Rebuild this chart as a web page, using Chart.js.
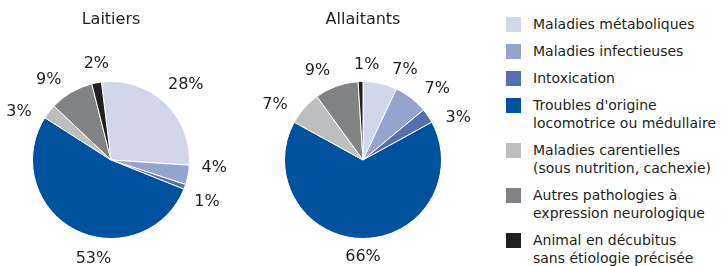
<!DOCTYPE html>
<html>
<head>
<meta charset="utf-8">
<script src="https://cdn.jsdelivr.net/npm/chart.js@4.4.1/dist/chart.umd.min.js"></script>
<style>
  body { margin: 0; background: #fff; width: 726px; height: 266px; overflow: hidden; position: relative; font-family: "DejaVu Sans", sans-serif; color: #231f20; }
  #c1 { position: absolute; left: 0; top: 0; }
  #c2 { position: absolute; left: 252px; top: 0; }
  #legend { position: absolute; left: 506px; top: 15px; }
  .item { display: flex; align-items: flex-start; margin-bottom: 9px; font-size: 14px; line-height: 18px; }
  .box { width: 15px; height: 15px; margin-top: 2px; margin-right: 12px; flex: none; }
</style>
</head>
<body>
<canvas id="c1" width="244" height="266"></canvas>
<canvas id="c2" width="240" height="266"></canvas>
<div id="legend"></div>
<script>
const categories = [
    ['Maladies métaboliques'],
    ['Maladies infectieuses'],
    ['Intoxication'],
    ["Troubles d'origine", 'locomotrice ou médullaire'],
    ['Maladies carentielles', '(sous nutrition, cachexie)'],
    ['Autres pathologies à', 'expression neurologique'],
    ['Animal en décubitus', 'sans étiologie précisée']
];
const laitiers = [28, 4, 1, 53, 3, 9, 2];
const allaitants = [7, 7, 3, 66, 7, 9, 1];
const colors = ['#d2d6eb', '#95a3cf', '#5470b3', '#00519e', '#bcbec0', '#808285', '#231f20'];

// percentage labels outside each slice, nudged a little like in the original
const outsideLabels = {
    id: 'outsideLabels',
    afterDatasetsDraw(chart, args, opts) {
        const ctx = chart.ctx;
        const meta = chart.getDatasetMeta(0);
        const shift = opts.shift || [];
        ctx.save();
        ctx.font = '16px "DejaVu Sans"';
        ctx.fillStyle = '#231f20';
        ctx.textAlign = 'center';
        ctx.textBaseline = 'middle';
        meta.data.forEach((arc, i) => {
            const p = arc.getProps(['x', 'y', 'startAngle', 'endAngle', 'outerRadius'], true);
            const txt = chart.data.datasets[0].data[i] + '%';
            const w = ctx.measureText(txt).width;
            const mid = (p.startAngle + p.endAngle) / 2 + (shift[i] || 0) * Math.PI / 180;
            const c = Math.cos(mid), s = Math.sin(mid);
            const r = p.outerRadius + 12 + Math.abs(c) * w / 2 + Math.abs(s) * 5.5;
            ctx.fillText(txt, p.x + c * r, p.y + s * r + 1);
        });
        ctx.restore();
    }
};

function makePie(id, title, values, rotation, shift, padRight) {
    return new Chart(document.getElementById(id), {
        type: 'pie',
        data: {
            labels: categories.map(c => c.join(' ')),
            datasets: [{
                data: values,
                backgroundColor: colors,
                borderColor: '#ffffff',
                borderWidth: 1
            }]
        },
        options: {
            responsive: false,
            animation: false,
            rotation: rotation,
            layout: { padding: { left: 32, right: padRight, top: 0, bottom: 27 } },
            plugins: {
                legend: { display: false },
                tooltip: { enabled: false },
                title: {
                    display: true,
                    text: title,
                    color: '#231f20',
                    font: { family: 'DejaVu Sans', size: 16, weight: 'normal' },
                    padding: { top: 10, bottom: 51.8 }
                },
                outsideLabels: { shift: shift }
            }
        },
        plugins: [outsideLabels]
    });
}

makePie('c1', 'Laitiers', laitiers, -7, [1, -7, 3, -17, -10, -7, 2], 54);
makePie('c2', 'Allaitants', allaitants, 0, [12, 8, 10, 0, -9, -7, 4], 50);

const legend = document.getElementById('legend');
categories.forEach((lines, i) => {
    const item = document.createElement('div');
    item.className = 'item';
    const box = document.createElement('div');
    box.className = 'box';
    box.style.background = colors[i];
    const txt = document.createElement('div');
    txt.innerHTML = lines.join('<br>');
    item.appendChild(box);
    item.appendChild(txt);
    legend.appendChild(item);
});
</script>
</body>
</html>
